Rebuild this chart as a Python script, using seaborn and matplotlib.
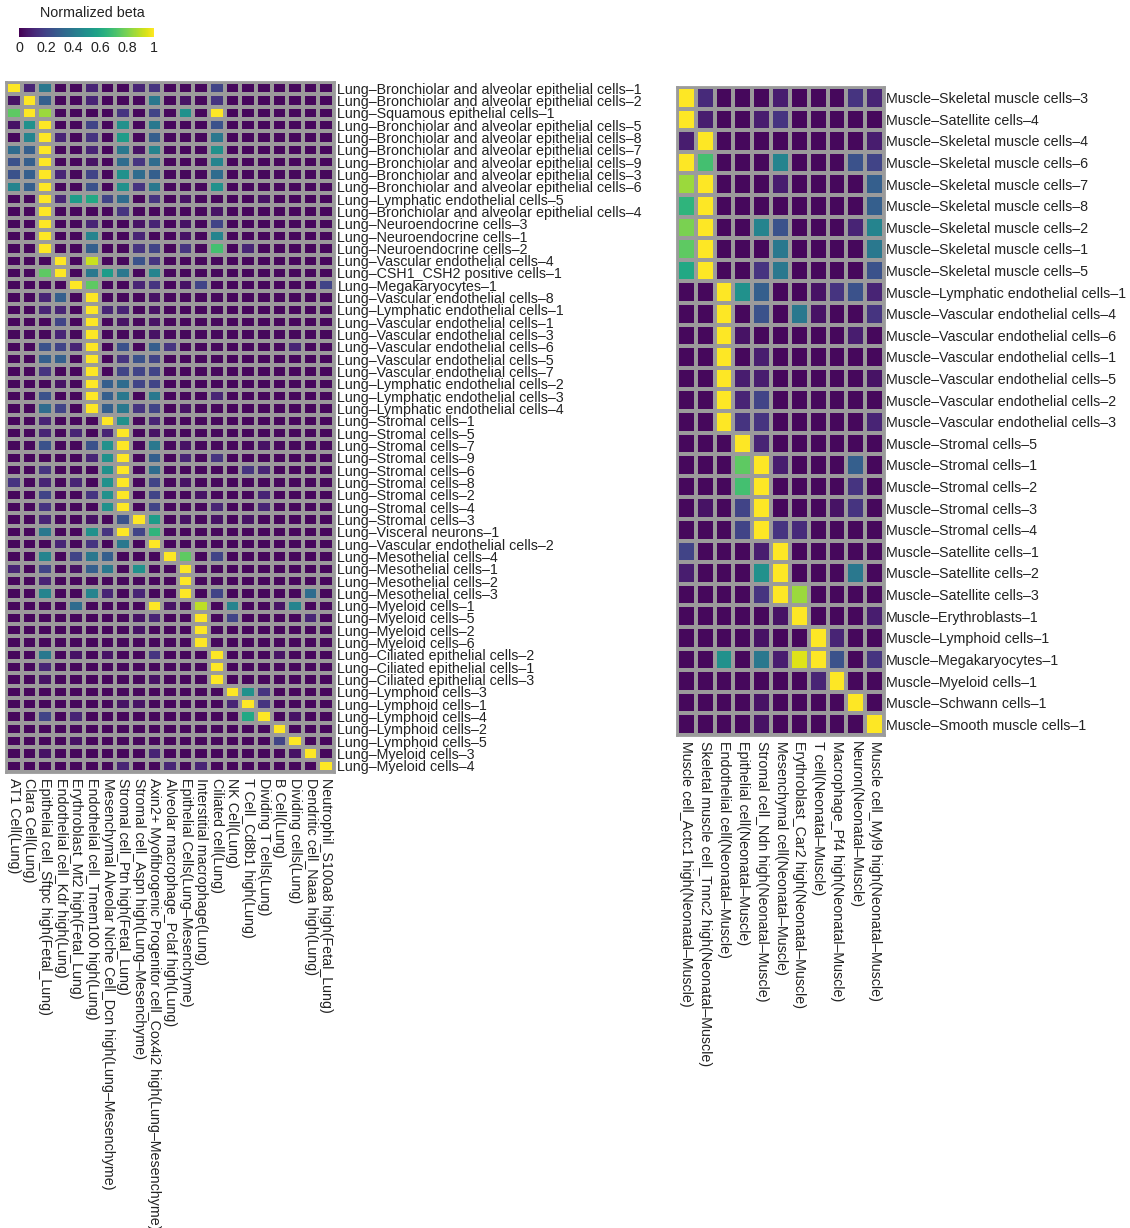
import numpy as np
import pandas as pd
import matplotlib
matplotlib.use('Agg')
import matplotlib.pyplot as plt
import seaborn as sns

sns.set_theme(style='white')
plt.rcParams['font.family'] = ['Liberation Sans', 'DejaVu Sans']
plt.rcParams['text.color'] = '#222222'
plt.rcParams['xtick.color'] = '#222222'
plt.rcParams['ytick.color'] = '#222222'

# Lung panel: rows are clusters, columns are reference cell types.
lung_rows = [
    'Lung–Bronchiolar and alveolar epithelial cells–1',
    'Lung–Bronchiolar and alveolar epithelial cells–2',
    'Lung–Squamous epithelial cells–1',
    'Lung–Bronchiolar and alveolar epithelial cells–5',
    'Lung–Bronchiolar and alveolar epithelial cells–8',
    'Lung–Bronchiolar and alveolar epithelial cells–7',
    'Lung–Bronchiolar and alveolar epithelial cells–9',
    'Lung–Bronchiolar and alveolar epithelial cells–3',
    'Lung–Bronchiolar and alveolar epithelial cells–6',
    'Lung–Lymphatic endothelial cells–5',
    'Lung–Bronchiolar and alveolar epithelial cells–4',
    'Lung–Neuroendocrine cells–3',
    'Lung–Neuroendocrine cells–1',
    'Lung–Neuroendocrine cells–2',
    'Lung–Vascular endothelial cells–4',
    'Lung–CSH1_CSH2 positive cells–1',
    'Lung–Megakaryocytes–1',
    'Lung–Vascular endothelial cells–8',
    'Lung–Lymphatic endothelial cells–1',
    'Lung–Vascular endothelial cells–1',
    'Lung–Vascular endothelial cells–3',
    'Lung–Vascular endothelial cells–6',
    'Lung–Vascular endothelial cells–5',
    'Lung–Vascular endothelial cells–7',
    'Lung–Lymphatic endothelial cells–2',
    'Lung–Lymphatic endothelial cells–3',
    'Lung–Lymphatic endothelial cells–4',
    'Lung–Stromal cells–1',
    'Lung–Stromal cells–5',
    'Lung–Stromal cells–7',
    'Lung–Stromal cells–9',
    'Lung–Stromal cells–6',
    'Lung–Stromal cells–8',
    'Lung–Stromal cells–2',
    'Lung–Stromal cells–4',
    'Lung–Stromal cells–3',
    'Lung–Visceral neurons–1',
    'Lung–Vascular endothelial cells–2',
    'Lung–Mesothelial cells–4',
    'Lung–Mesothelial cells–1',
    'Lung–Mesothelial cells–2',
    'Lung–Mesothelial cells–3',
    'Lung–Myeloid cells–1',
    'Lung–Myeloid cells–5',
    'Lung–Myeloid cells–2',
    'Lung–Myeloid cells–6',
    'Lung–Ciliated epithelial cells–2',
    'Lung–Ciliated epithelial cells–1',
    'Lung–Ciliated epithelial cells–3',
    'Lung–Lymphoid cells–3',
    'Lung–Lymphoid cells–1',
    'Lung–Lymphoid cells–4',
    'Lung–Lymphoid cells–2',
    'Lung–Lymphoid cells–5',
    'Lung–Myeloid cells–3',
    'Lung–Myeloid cells–4',
]

lung_cols = [
    'AT1 Cell(Lung)',
    'Clara Cell(Lung)',
    'Epithelial cell_Sftpc high(Fetal_Lung)',
    'Endothelial cell_Kdr high(Lung)',
    'Erythroblast_Mt2 high(Fetal_Lung)',
    'Endothelial cell_Tmem100 high(Lung)',
    'Mesenchymal Alveolar Niche Cell_Dcn high(Lung–Mesenchyme)',
    'Stromal cell_Ptn high(Fetal_Lung)',
    'Stromal cell_Aspn high(Lung–Mesenchyme)',
    'Axin2+ Myofibrogenic Progenitor cell_Cox4i2 high(Lung–Mesenchyme)',
    'Alveolar macrophage_Pclaf high(Lung)',
    'Epithelial Cells(Lung–Mesenchyme)',
    'Interstitial macrophage(Lung)',
    'Ciliated cell(Lung)',
    'NK Cell(Lung)',
    'T Cell_Cd8b1 high(Lung)',
    'Dividing T cells(Lung)',
    'B Cell(Lung)',
    'Dividing cells(Lung)',
    'Dendritic cell_Naaa high(Lung)',
    'Neutrophil_S100a8 high(Fetal_Lung)',
]

# normalized beta, in percent
lung_beta = [
    [100, 10, 40, 2, 2, 10, 2, 2, 10, 15, 2, 2, 2, 20, 2, 2, 2, 2, 2, 2, 2],
    [5, 100, 30, 2, 2, 10, 2, 2, 2, 40, 2, 5, 2, 15, 2, 2, 2, 2, 2, 2, 2],
    [75, 100, 85, 2, 2, 2, 2, 15, 2, 20, 2, 50, 2, 100, 2, 2, 2, 2, 2, 2, 2],
    [5, 50, 100, 2, 2, 20, 2, 50, 2, 40, 2, 2, 2, 25, 2, 2, 2, 2, 2, 2, 2],
    [2, 45, 100, 10, 2, 15, 2, 55, 2, 30, 2, 2, 2, 40, 2, 2, 2, 2, 2, 2, 2],
    [35, 30, 100, 2, 2, 10, 2, 40, 5, 45, 2, 2, 2, 50, 2, 2, 2, 2, 2, 2, 2],
    [25, 30, 100, 2, 2, 5, 2, 35, 15, 35, 2, 2, 2, 45, 2, 2, 2, 2, 2, 2, 2],
    [25, 30, 100, 10, 2, 20, 2, 50, 35, 30, 2, 2, 2, 35, 2, 2, 2, 2, 2, 2, 2],
    [45, 30, 100, 2, 2, 25, 2, 50, 15, 40, 2, 2, 2, 50, 2, 2, 2, 2, 2, 2, 2],
    [2, 2, 100, 10, 55, 60, 20, 35, 2, 15, 2, 5, 2, 2, 2, 2, 5, 2, 2, 2, 2],
    [2, 2, 100, 2, 2, 2, 2, 15, 2, 2, 2, 2, 2, 5, 2, 2, 2, 2, 2, 2, 2],
    [2, 2, 100, 2, 2, 10, 2, 2, 5, 10, 2, 5, 2, 20, 2, 2, 2, 2, 2, 2, 2],
    [2, 2, 100, 2, 2, 45, 2, 2, 10, 2, 2, 5, 2, 45, 2, 2, 2, 2, 2, 2, 2],
    [2, 2, 100, 2, 2, 30, 2, 2, 15, 20, 2, 15, 2, 70, 2, 10, 2, 2, 2, 2, 2],
    [2, 2, 2, 100, 2, 92, 2, 2, 25, 15, 2, 2, 2, 2, 2, 2, 2, 2, 2, 2, 2],
    [2, 2, 75, 100, 2, 40, 55, 40, 2, 45, 2, 2, 2, 2, 2, 2, 2, 2, 2, 2, 2],
    [2, 2, 2, 2, 100, 75, 2, 2, 10, 15, 2, 5, 20, 2, 2, 2, 2, 2, 2, 2, 20],
    [2, 2, 10, 30, 2, 100, 2, 2, 2, 5, 2, 2, 2, 2, 2, 2, 2, 2, 2, 2, 2],
    [2, 2, 10, 10, 2, 100, 10, 10, 2, 5, 2, 2, 2, 2, 2, 2, 2, 2, 2, 2, 2],
    [2, 2, 2, 20, 2, 100, 2, 5, 2, 5, 2, 2, 2, 2, 2, 2, 2, 2, 2, 2, 2],
    [2, 2, 2, 10, 2, 100, 2, 2, 2, 5, 2, 2, 2, 2, 2, 2, 2, 2, 2, 2, 2],
    [2, 2, 25, 20, 10, 100, 2, 25, 2, 30, 15, 2, 2, 2, 2, 2, 2, 2, 10, 2, 2],
    [2, 2, 30, 30, 2, 100, 2, 15, 25, 20, 2, 2, 2, 2, 2, 2, 2, 2, 2, 2, 2],
    [2, 2, 15, 2, 2, 100, 2, 20, 20, 20, 2, 2, 2, 2, 2, 2, 2, 2, 2, 2, 2],
    [2, 2, 2, 5, 2, 100, 30, 35, 20, 20, 2, 2, 2, 2, 2, 2, 2, 2, 2, 2, 2],
    [2, 2, 25, 2, 2, 100, 30, 40, 2, 40, 2, 2, 2, 10, 2, 2, 2, 2, 2, 2, 2],
    [2, 2, 35, 20, 2, 100, 30, 40, 15, 20, 2, 5, 2, 2, 2, 2, 2, 2, 2, 2, 2],
    [2, 2, 10, 2, 2, 2, 100, 50, 2, 10, 2, 2, 2, 2, 2, 2, 2, 2, 2, 2, 2],
    [2, 2, 10, 2, 10, 2, 10, 100, 2, 5, 2, 2, 2, 2, 2, 2, 2, 2, 2, 2, 2],
    [2, 2, 25, 2, 2, 25, 50, 100, 2, 40, 2, 5, 2, 2, 2, 2, 5, 2, 2, 2, 2],
    [2, 2, 2, 2, 2, 10, 50, 100, 2, 30, 2, 10, 2, 15, 2, 2, 2, 2, 2, 2, 2],
    [2, 2, 15, 2, 2, 2, 50, 100, 2, 35, 2, 2, 2, 2, 2, 15, 10, 2, 2, 2, 2],
    [15, 2, 10, 2, 10, 2, 50, 100, 2, 20, 2, 5, 2, 2, 2, 2, 2, 2, 2, 2, 2],
    [2, 2, 20, 2, 2, 15, 50, 100, 2, 20, 2, 2, 5, 2, 2, 2, 10, 2, 2, 2, 2],
    [2, 2, 15, 2, 2, 2, 50, 100, 2, 20, 2, 2, 2, 10, 2, 2, 10, 2, 2, 2, 2],
    [2, 2, 10, 2, 2, 5, 2, 25, 100, 55, 2, 5, 2, 5, 2, 5, 2, 2, 2, 2, 2],
    [2, 2, 40, 2, 2, 50, 15, 100, 20, 65, 2, 2, 2, 2, 2, 2, 2, 2, 2, 2, 2],
    [2, 2, 2, 10, 2, 15, 2, 40, 2, 100, 2, 2, 2, 2, 2, 2, 2, 2, 2, 2, 2],
    [2, 2, 45, 2, 20, 40, 30, 2, 2, 2, 100, 75, 2, 20, 2, 2, 2, 2, 2, 2, 2],
    [10, 2, 20, 2, 5, 30, 40, 2, 50, 2, 2, 100, 2, 2, 2, 2, 2, 2, 2, 2, 2],
    [2, 2, 10, 2, 2, 2, 2, 2, 2, 2, 2, 100, 2, 2, 2, 2, 2, 2, 2, 2, 2],
    [2, 2, 45, 2, 2, 45, 10, 2, 10, 2, 2, 100, 2, 20, 2, 2, 2, 2, 2, 35, 2],
    [2, 2, 2, 2, 35, 2, 2, 2, 2, 100, 5, 2, 90, 2, 45, 2, 2, 5, 45, 2, 2],
    [2, 2, 2, 2, 2, 2, 2, 2, 5, 10, 2, 2, 100, 2, 20, 2, 2, 2, 2, 10, 2],
    [2, 2, 2, 2, 2, 2, 2, 2, 5, 2, 2, 2, 100, 2, 2, 2, 2, 2, 2, 2, 2],
    [2, 2, 2, 2, 2, 2, 2, 2, 2, 2, 2, 2, 100, 2, 2, 2, 2, 2, 2, 2, 2],
    [2, 2, 40, 2, 5, 2, 5, 2, 2, 15, 2, 2, 2, 100, 2, 2, 2, 5, 2, 2, 2],
    [2, 2, 10, 2, 2, 2, 2, 2, 2, 2, 2, 2, 2, 100, 2, 2, 2, 2, 2, 2, 2],
    [2, 2, 5, 2, 2, 2, 2, 2, 2, 5, 2, 2, 2, 100, 2, 2, 2, 2, 2, 2, 2],
    [2, 2, 2, 2, 2, 2, 2, 2, 2, 2, 2, 2, 2, 2, 100, 50, 15, 2, 2, 2, 2],
    [2, 2, 2, 2, 2, 2, 2, 5, 5, 2, 2, 2, 2, 2, 10, 100, 15, 2, 2, 2, 2],
    [2, 2, 20, 2, 10, 2, 2, 2, 2, 2, 2, 2, 2, 2, 2, 60, 100, 2, 5, 2, 2],
    [2, 2, 2, 2, 2, 2, 2, 2, 2, 2, 2, 2, 2, 2, 2, 2, 2, 100, 2, 2, 2],
    [2, 2, 2, 2, 5, 2, 2, 2, 2, 2, 2, 2, 2, 2, 2, 2, 2, 20, 100, 2, 2],
    [2, 2, 5, 2, 2, 2, 2, 2, 2, 10, 2, 2, 2, 2, 2, 2, 2, 2, 5, 100, 2],
    [2, 2, 2, 2, 2, 2, 2, 10, 2, 2, 10, 2, 10, 2, 2, 2, 2, 2, 2, 2, 100],
]

# Muscle panel
muscle_rows = [
    'Muscle–Skeletal muscle cells–3',
    'Muscle–Satellite cells–4',
    'Muscle–Skeletal muscle cells–4',
    'Muscle–Skeletal muscle cells–6',
    'Muscle–Skeletal muscle cells–7',
    'Muscle–Skeletal muscle cells–8',
    'Muscle–Skeletal muscle cells–2',
    'Muscle–Skeletal muscle cells–1',
    'Muscle–Skeletal muscle cells–5',
    'Muscle–Lymphatic endothelial cells–1',
    'Muscle–Vascular endothelial cells–4',
    'Muscle–Vascular endothelial cells–6',
    'Muscle–Vascular endothelial cells–1',
    'Muscle–Vascular endothelial cells–5',
    'Muscle–Vascular endothelial cells–2',
    'Muscle–Vascular endothelial cells–3',
    'Muscle–Stromal cells–5',
    'Muscle–Stromal cells–1',
    'Muscle–Stromal cells–2',
    'Muscle–Stromal cells–3',
    'Muscle–Stromal cells–4',
    'Muscle–Satellite cells–1',
    'Muscle–Satellite cells–2',
    'Muscle–Satellite cells–3',
    'Muscle–Erythroblasts–1',
    'Muscle–Lymphoid cells–1',
    'Muscle–Megakaryocytes–1',
    'Muscle–Myeloid cells–1',
    'Muscle–Schwann cells–1',
    'Muscle–Smooth muscle cells–1',
]

muscle_cols = [
    'Muscle cell_Actc1 high(Neonatal–Muscle)',
    'Skeletal muscle cell_Tnnc2 high(Neonatal–Muscle)',
    'Endothelial cell(Neonatal–Muscle)',
    'Epithelial cell(Neonatal–Muscle)',
    'Stromal cell_Ndn high(Neonatal–Muscle)',
    'Mesenchymal cell(Neonatal–Muscle)',
    'Erythroblast_Car2 high(Neonatal–Muscle)',
    'T cell(Neonatal–Muscle)',
    'Macrophage_Pf4 high(Neonatal–Muscle)',
    'Neuron(Neonatal–Muscle)',
    'Muscle cell_Myl9 high(Neonatal–Muscle)',
]

muscle_beta = [
    [100, 12, 2, 2, 2, 8, 2, 2, 2, 15, 10],
    [100, 8, 2, 2, 8, 15, 2, 2, 2, 2, 2],
    [8, 100, 2, 2, 2, 2, 2, 2, 2, 2, 8],
    [100, 70, 2, 2, 2, 45, 2, 2, 2, 25, 20],
    [85, 100, 2, 2, 2, 8, 2, 2, 2, 2, 30],
    [65, 100, 2, 2, 2, 2, 2, 2, 2, 2, 30],
    [80, 100, 2, 2, 45, 25, 2, 2, 2, 10, 45],
    [75, 100, 2, 2, 2, 40, 2, 2, 2, 2, 40],
    [60, 100, 2, 2, 15, 40, 2, 2, 2, 2, 25],
    [2, 2, 100, 50, 30, 2, 2, 5, 15, 25, 10],
    [2, 2, 100, 2, 25, 2, 40, 5, 2, 2, 15],
    [2, 2, 100, 5, 2, 2, 2, 2, 2, 8, 2],
    [2, 2, 100, 2, 8, 2, 2, 2, 2, 2, 2],
    [2, 2, 100, 8, 8, 2, 2, 2, 2, 2, 5],
    [2, 2, 100, 10, 20, 2, 2, 2, 2, 2, 2],
    [2, 2, 100, 15, 15, 2, 2, 2, 2, 2, 10],
    [2, 2, 2, 100, 10, 2, 2, 2, 2, 2, 2],
    [2, 2, 2, 75, 100, 8, 2, 2, 2, 30, 2],
    [2, 2, 2, 70, 100, 2, 2, 2, 2, 15, 2],
    [2, 5, 2, 20, 100, 2, 2, 2, 5, 15, 2],
    [2, 2, 2, 20, 100, 15, 12, 2, 2, 2, 2],
    [20, 2, 2, 2, 8, 100, 2, 2, 2, 2, 2],
    [8, 2, 2, 2, 50, 100, 2, 2, 2, 40, 2],
    [2, 2, 2, 2, 15, 100, 85, 2, 2, 2, 2],
    [2, 2, 2, 2, 2, 5, 100, 2, 2, 2, 8],
    [2, 2, 2, 2, 5, 2, 2, 100, 10, 2, 2],
    [2, 2, 50, 2, 40, 8, 95, 100, 25, 2, 15],
    [2, 2, 2, 2, 2, 2, 2, 10, 100, 2, 2],
    [2, 2, 2, 2, 5, 2, 2, 2, 2, 100, 2],
    [2, 2, 2, 2, 5, 2, 2, 2, 2, 2, 100],
]

cbar_ticks = [0, 0.2, 0.4, 0.6, 0.8, 1]
cbar_ticklabels = ['0', '0.2', '0.4', '0.6', '0.8', '1']

lung_df = pd.DataFrame(np.array(lung_beta) / 100.0, index=lung_rows,
                       columns=lung_cols)
muscle_df = pd.DataFrame(np.array(muscle_beta) / 100.0, index=muscle_rows,
                         columns=muscle_cols)

W, H = 1130, 1228
fig = plt.figure(figsize=(W / 100, H / 100), dpi=100)


def px_axes(x0, y0, x1, y1):
    """Add axes given pixel box (top-left origin)."""
    return fig.add_axes([x0 / W, 1 - y1 / H, (x1 - x0) / W, (y1 - y0) / H])


ax_lung = px_axes(6, 82, 334, 772)
ax_muscle = px_axes(677, 87, 884, 735)
cax = px_axes(19, 28, 154, 37)

grid = '#9b9b9b'
fs = 10.3

sns.heatmap(lung_df, ax=ax_lung, cmap='viridis', vmin=0, vmax=1,
            linewidths=1.6, linecolor=grid, cbar_ax=cax,
            cbar_kws={'orientation': 'horizontal', 'ticks': cbar_ticks})
sns.heatmap(muscle_df, ax=ax_muscle, cmap='viridis', vmin=0, vmax=1,
            linewidths=1.6, linecolor=grid, cbar=False)

for ax, df, ypad in [(ax_lung, lung_df, 2.5), (ax_muscle, muscle_df, 1.5)]:
    ax.yaxis.tick_right()
    ax.set_yticks(np.arange(len(df.index)) + 0.5)
    ax.set_yticklabels(df.index, rotation=0, fontsize=fs,
                       va='center_baseline')
    ax.set_xticks(np.arange(len(df.columns)) + 0.5)
    ax.set_xticklabels(df.columns, rotation=270, fontsize=fs,
                       ha='center', va='top')
    ax.tick_params(axis='both', length=0)
    ax.tick_params(axis='y', pad=ypad)
    ax.tick_params(axis='x', pad=4)
    ax.set_xlabel('')
    ax.set_ylabel('')
    for spine in ax.spines.values():
        spine.set_visible(True)
        spine.set_color(grid)
        spine.set_linewidth(2)

cax.set_xticks(cbar_ticks)
cax.set_xticklabels(cbar_ticklabels, fontsize=fs)
cax.tick_params(length=0, pad=3)
cax.set_title('Normalized beta', fontsize=fs, pad=8, x=0.54)
cbar = ax_lung.collections[0].colorbar
cbar.outline.set_visible(False)

fig.savefig('out.png', dpi=100)
